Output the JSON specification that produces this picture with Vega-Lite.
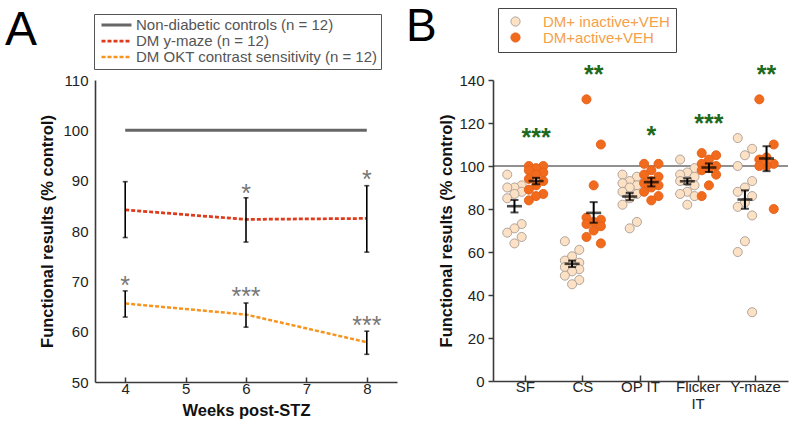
{
  "$schema": "https://vega.github.io/schema/vega-lite/v6.json",
  "background": "white",
  "padding": {"left": 5, "top": 3, "right": 8, "bottom": 2},
  "spacing": 9,
  "resolve": {"legend": {"color": "independent", "strokeDash": "independent", "strokeWidth": "independent", "fill": "independent", "stroke": "independent"}},
  "config": {
    "font": "Liberation Sans",
    "view": {"stroke": null},
    "axis": {"grid": false, "domainColor": "#3a3a3a", "domainWidth": 1.6, "tickColor": "#3a3a3a", "tickWidth": 1.5, "labelFont": "Liberation Sans", "labelFontSize": 15, "labelColor": "#222222", "titleFont": "Liberation Sans", "titleFontSize": 16.5, "titleFontWeight": "bold", "titleColor": "#111111"},
    "legend": {"labelFont": "Liberation Sans", "labelFontSize": 15, "fillColor": "white", "labelLimit": 0}
  },
  "datasets": {
    "lineA": [
      {"week": 4, "value": 100, "series": "Non-diabetic controls (n = 12)"},
      {"week": 6, "value": 100, "series": "Non-diabetic controls (n = 12)"},
      {"week": 8, "value": 100, "series": "Non-diabetic controls (n = 12)"},
      {"week": 4, "value": 84.2, "series": "DM y-maze (n = 12)"},
      {"week": 6, "value": 82.3, "series": "DM y-maze (n = 12)"},
      {"week": 8, "value": 82.5, "series": "DM y-maze (n = 12)"},
      {"week": 4, "value": 65.6, "series": "DM OKT contrast sensitivity (n = 12)"},
      {"week": 6, "value": 63.4, "series": "DM OKT contrast sensitivity (n = 12)"},
      {"week": 8, "value": 57.9, "series": "DM OKT contrast sensitivity (n = 12)"}
    ],
    "errA": [
      {"week": 4, "lo": 78.7, "hi": 89.8},
      {"week": 6, "lo": 77.8, "hi": 86.6},
      {"week": 8, "lo": 75.8, "hi": 89.0},
      {"week": 4, "lo": 62.9, "hi": 68.1},
      {"week": 6, "lo": 60.9, "hi": 65.7},
      {"week": 8, "lo": 55.5, "hi": 60.1}
    ],
    "starsA": [
      {"week": 4, "y": 67.5, "label": "*"},
      {"week": 6, "y": 85.7, "label": "*"},
      {"week": 8, "y": 88.5, "label": "*"},
      {"week": 6, "y": 65.3, "label": "***"},
      {"week": 8, "y": 59.6, "label": "***"}
    ],
    "ptsB": [
      {"cat": "SF", "group": "DM+ inactive+VEH", "v": 96},
      {"cat": "SF", "group": "DM+ inactive+VEH", "v": 91},
      {"cat": "SF", "group": "DM+ inactive+VEH", "v": 90},
      {"cat": "SF", "group": "DM+ inactive+VEH", "v": 90},
      {"cat": "SF", "group": "DM+ inactive+VEH", "v": 88},
      {"cat": "SF", "group": "DM+ inactive+VEH", "v": 87},
      {"cat": "SF", "group": "DM+ inactive+VEH", "v": 85},
      {"cat": "SF", "group": "DM+ inactive+VEH", "v": 73},
      {"cat": "SF", "group": "DM+ inactive+VEH", "v": 71},
      {"cat": "SF", "group": "DM+ inactive+VEH", "v": 69},
      {"cat": "SF", "group": "DM+ inactive+VEH", "v": 67},
      {"cat": "SF", "group": "DM+ inactive+VEH", "v": 64},
      {"cat": "SF", "group": "DM+active+VEH", "v": 100},
      {"cat": "SF", "group": "DM+active+VEH", "v": 100},
      {"cat": "SF", "group": "DM+active+VEH", "v": 99},
      {"cat": "SF", "group": "DM+active+VEH", "v": 98},
      {"cat": "SF", "group": "DM+active+VEH", "v": 97},
      {"cat": "SF", "group": "DM+active+VEH", "v": 96},
      {"cat": "SF", "group": "DM+active+VEH", "v": 94},
      {"cat": "SF", "group": "DM+active+VEH", "v": 93},
      {"cat": "SF", "group": "DM+active+VEH", "v": 91},
      {"cat": "SF", "group": "DM+active+VEH", "v": 89},
      {"cat": "SF", "group": "DM+active+VEH", "v": 87},
      {"cat": "SF", "group": "DM+active+VEH", "v": 86},
      {"cat": "SF", "group": "DM+active+VEH", "v": 84},
      {"cat": "CS", "group": "DM+ inactive+VEH", "v": 65},
      {"cat": "CS", "group": "DM+ inactive+VEH", "v": 61},
      {"cat": "CS", "group": "DM+ inactive+VEH", "v": 58},
      {"cat": "CS", "group": "DM+ inactive+VEH", "v": 56},
      {"cat": "CS", "group": "DM+ inactive+VEH", "v": 55},
      {"cat": "CS", "group": "DM+ inactive+VEH", "v": 54},
      {"cat": "CS", "group": "DM+ inactive+VEH", "v": 53},
      {"cat": "CS", "group": "DM+ inactive+VEH", "v": 52},
      {"cat": "CS", "group": "DM+ inactive+VEH", "v": 51},
      {"cat": "CS", "group": "DM+ inactive+VEH", "v": 49},
      {"cat": "CS", "group": "DM+ inactive+VEH", "v": 47},
      {"cat": "CS", "group": "DM+ inactive+VEH", "v": 45},
      {"cat": "CS", "group": "DM+active+VEH", "v": 131},
      {"cat": "CS", "group": "DM+active+VEH", "v": 110},
      {"cat": "CS", "group": "DM+active+VEH", "v": 91},
      {"cat": "CS", "group": "DM+active+VEH", "v": 76},
      {"cat": "CS", "group": "DM+active+VEH", "v": 75},
      {"cat": "CS", "group": "DM+active+VEH", "v": 74},
      {"cat": "CS", "group": "DM+active+VEH", "v": 73},
      {"cat": "CS", "group": "DM+active+VEH", "v": 72},
      {"cat": "CS", "group": "DM+active+VEH", "v": 70},
      {"cat": "CS", "group": "DM+active+VEH", "v": 67},
      {"cat": "CS", "group": "DM+active+VEH", "v": 64},
      {"cat": "OP IT", "group": "DM+ inactive+VEH", "v": 96},
      {"cat": "OP IT", "group": "DM+ inactive+VEH", "v": 95},
      {"cat": "OP IT", "group": "DM+ inactive+VEH", "v": 93},
      {"cat": "OP IT", "group": "DM+ inactive+VEH", "v": 92},
      {"cat": "OP IT", "group": "DM+ inactive+VEH", "v": 91},
      {"cat": "OP IT", "group": "DM+ inactive+VEH", "v": 90},
      {"cat": "OP IT", "group": "DM+ inactive+VEH", "v": 88},
      {"cat": "OP IT", "group": "DM+ inactive+VEH", "v": 87},
      {"cat": "OP IT", "group": "DM+ inactive+VEH", "v": 85},
      {"cat": "OP IT", "group": "DM+ inactive+VEH", "v": 82},
      {"cat": "OP IT", "group": "DM+ inactive+VEH", "v": 74},
      {"cat": "OP IT", "group": "DM+ inactive+VEH", "v": 71},
      {"cat": "OP IT", "group": "DM+active+VEH", "v": 101},
      {"cat": "OP IT", "group": "DM+active+VEH", "v": 101},
      {"cat": "OP IT", "group": "DM+active+VEH", "v": 98},
      {"cat": "OP IT", "group": "DM+active+VEH", "v": 96},
      {"cat": "OP IT", "group": "DM+active+VEH", "v": 95},
      {"cat": "OP IT", "group": "DM+active+VEH", "v": 93},
      {"cat": "OP IT", "group": "DM+active+VEH", "v": 92},
      {"cat": "OP IT", "group": "DM+active+VEH", "v": 91},
      {"cat": "OP IT", "group": "DM+active+VEH", "v": 90},
      {"cat": "OP IT", "group": "DM+active+VEH", "v": 88},
      {"cat": "OP IT", "group": "DM+active+VEH", "v": 86},
      {"cat": "OP IT", "group": "DM+active+VEH", "v": 84},
      {"cat": "Flicker IT", "group": "DM+ inactive+VEH", "v": 103},
      {"cat": "Flicker IT", "group": "DM+ inactive+VEH", "v": 99},
      {"cat": "Flicker IT", "group": "DM+ inactive+VEH", "v": 97},
      {"cat": "Flicker IT", "group": "DM+ inactive+VEH", "v": 96},
      {"cat": "Flicker IT", "group": "DM+ inactive+VEH", "v": 95},
      {"cat": "Flicker IT", "group": "DM+ inactive+VEH", "v": 93},
      {"cat": "Flicker IT", "group": "DM+ inactive+VEH", "v": 93},
      {"cat": "Flicker IT", "group": "DM+ inactive+VEH", "v": 91},
      {"cat": "Flicker IT", "group": "DM+ inactive+VEH", "v": 88},
      {"cat": "Flicker IT", "group": "DM+ inactive+VEH", "v": 87},
      {"cat": "Flicker IT", "group": "DM+ inactive+VEH", "v": 86},
      {"cat": "Flicker IT", "group": "DM+ inactive+VEH", "v": 82},
      {"cat": "Flicker IT", "group": "DM+active+VEH", "v": 106},
      {"cat": "Flicker IT", "group": "DM+active+VEH", "v": 105},
      {"cat": "Flicker IT", "group": "DM+active+VEH", "v": 103},
      {"cat": "Flicker IT", "group": "DM+active+VEH", "v": 101},
      {"cat": "Flicker IT", "group": "DM+active+VEH", "v": 100},
      {"cat": "Flicker IT", "group": "DM+active+VEH", "v": 99},
      {"cat": "Flicker IT", "group": "DM+active+VEH", "v": 98},
      {"cat": "Flicker IT", "group": "DM+active+VEH", "v": 96},
      {"cat": "Flicker IT", "group": "DM+active+VEH", "v": 91},
      {"cat": "Flicker IT", "group": "DM+active+VEH", "v": 86},
      {"cat": "Y-maze", "group": "DM+ inactive+VEH", "v": 113},
      {"cat": "Y-maze", "group": "DM+ inactive+VEH", "v": 108},
      {"cat": "Y-maze", "group": "DM+ inactive+VEH", "v": 105},
      {"cat": "Y-maze", "group": "DM+ inactive+VEH", "v": 100},
      {"cat": "Y-maze", "group": "DM+ inactive+VEH", "v": 93},
      {"cat": "Y-maze", "group": "DM+ inactive+VEH", "v": 90},
      {"cat": "Y-maze", "group": "DM+ inactive+VEH", "v": 88},
      {"cat": "Y-maze", "group": "DM+ inactive+VEH", "v": 86},
      {"cat": "Y-maze", "group": "DM+ inactive+VEH", "v": 83},
      {"cat": "Y-maze", "group": "DM+ inactive+VEH", "v": 81},
      {"cat": "Y-maze", "group": "DM+ inactive+VEH", "v": 77},
      {"cat": "Y-maze", "group": "DM+ inactive+VEH", "v": 65},
      {"cat": "Y-maze", "group": "DM+ inactive+VEH", "v": 60},
      {"cat": "Y-maze", "group": "DM+ inactive+VEH", "v": 32},
      {"cat": "Y-maze", "group": "DM+active+VEH", "v": 131},
      {"cat": "Y-maze", "group": "DM+active+VEH", "v": 110},
      {"cat": "Y-maze", "group": "DM+active+VEH", "v": 104},
      {"cat": "Y-maze", "group": "DM+active+VEH", "v": 103},
      {"cat": "Y-maze", "group": "DM+active+VEH", "v": 101},
      {"cat": "Y-maze", "group": "DM+active+VEH", "v": 100},
      {"cat": "Y-maze", "group": "DM+active+VEH", "v": 100},
      {"cat": "Y-maze", "group": "DM+active+VEH", "v": 80}
    ],
    "sumB": [
      {"cat": "SF", "group": "DM+ inactive+VEH", "mean": 81.3, "lo": 78.4, "hi": 84.2},
      {"cat": "SF", "group": "DM+active+VEH", "mean": 93.0, "lo": 91.5, "hi": 94.5},
      {"cat": "CS", "group": "DM+ inactive+VEH", "mean": 54.5, "lo": 53.0, "hi": 56.0},
      {"cat": "CS", "group": "DM+active+VEH", "mean": 78.2, "lo": 73.6, "hi": 83.2},
      {"cat": "OP IT", "group": "DM+ inactive+VEH", "mean": 85.8, "lo": 84.1, "hi": 87.5},
      {"cat": "OP IT", "group": "DM+active+VEH", "mean": 92.5, "lo": 90.5, "hi": 94.5},
      {"cat": "Flicker IT", "group": "DM+ inactive+VEH", "mean": 92.9, "lo": 91.5, "hi": 94.3},
      {"cat": "Flicker IT", "group": "DM+active+VEH", "mean": 99.3, "lo": 97.2, "hi": 101.2},
      {"cat": "Y-maze", "group": "DM+ inactive+VEH", "mean": 84.4, "lo": 80.1, "hi": 88.7},
      {"cat": "Y-maze", "group": "DM+active+VEH", "mean": 103.5, "lo": 97.6, "hi": 109.2}
    ],
    "starsB": [
      {"cat": "SF", "group": "DM+active+VEH", "y": 109.4, "label": "***"},
      {"cat": "CS", "group": "DM+active+VEH", "y": 138.8, "label": "**"},
      {"cat": "OP IT", "group": "DM+active+VEH", "y": 110.1, "label": "*"},
      {"cat": "Flicker IT", "group": "DM+active+VEH", "y": 115.8, "label": "***"},
      {"cat": "Y-maze", "group": "DM+active+VEH", "y": 138.8, "label": "**"}
    ]
  },
  "hconcat": [
    {
      "width": 302,
      "height": 302,
      "title": {"text": "A", "font": "Liberation Sans", "fontSize": 48, "fontWeight": "normal", "color": "black", "anchor": "start", "frame": "group", "dx": -90, "dy": 79, "baseline": "alphabetic", "offset": 0},
      "layer": [
        {
          "data": {"name": "lineA"},
          "mark": {"type": "line"},
          "encoding": {
            "x": {"field": "week", "type": "quantitative", "title": "Weeks post-STZ", "scale": {"domain": [3.5, 8.5], "nice": false, "zero": false}, "axis": {"values": [4, 5, 6, 7, 8], "format": "d", "title": "Weeks post-STZ", "tickSize": -5, "labelPadding": 4, "titlePadding": 6}},
            "y": {"field": "value", "type": "quantitative", "title": "Functional results (% control)", "scale": {"domain": [50, 110], "nice": false, "zero": false}, "axis": {"values": [50, 60, 70, 80, 90, 100, 110], "ticks": false, "labelPadding": 7, "title": "Functional results (% control)", "titlePadding": 7}},
            "color": {"field": "series", "type": "nominal", "scale": {"domain": ["Non-diabetic controls (n = 12)", "DM y-maze (n = 12)", "DM OKT contrast sensitivity (n = 12)"], "range": ["#666666", "#dd3b1c", "#f7941e"]},
              "legend": {"title": null, "orient": "none", "legendX": -1, "legendY": -66, "padding": 3.5, "strokeColor": "#555555", "symbolType": "stroke", "symbolSize": 900, "symbolStrokeWidth": 2.5, "symbolOffset": 2.5, "labelOffset": 3, "labelFontSize": 15, "labelLimit": 0, "rowPadding": -1, "clipHeight": 15, "labelColor": "#555555",
                "encode": {"labels": {"fill": {"condition": [{"test": "datum.value === 'DM y-maze (n = 12)'", "value": "#dd3b1c"}, {"test": "datum.value === 'DM OKT contrast sensitivity (n = 12)'", "value": "#f7941e"}], "value": "#555555"}}}}},
            "strokeDash": {"field": "series", "type": "nominal", "scale": {"domain": ["Non-diabetic controls (n = 12)", "DM y-maze (n = 12)", "DM OKT contrast sensitivity (n = 12)"], "range": [[1, 0], [4, 2], [4, 2]]}},
            "strokeWidth": {"field": "series", "type": "nominal", "scale": {"domain": ["Non-diabetic controls (n = 12)", "DM y-maze (n = 12)", "DM OKT contrast sensitivity (n = 12)"], "range": [3, 2.5, 2.5]}, "legend": null}
          }
        },
        {
          "data": {"name": "errA"},
          "mark": {"type": "errorbar", "color": "black", "thickness": 1.6, "ticks": {"size": 5, "color": "black", "thickness": 1.6}},
          "encoding": {
            "x": {"field": "week", "type": "quantitative", "title": "Weeks post-STZ"},
            "y": {"field": "lo", "type": "quantitative", "title": "Functional results (% control)"},
            "y2": {"field": "hi"}
          }
        },
        {
          "data": {"name": "starsA"},
          "mark": {"type": "text", "font": "Liberation Sans", "fontSize": 25, "color": "#777777", "baseline": "alphabetic"},
          "encoding": {
            "x": {"field": "week", "type": "quantitative", "title": "Weeks post-STZ"},
            "y": {"field": "y", "type": "quantitative", "title": "Functional results (% control)"},
            "text": {"field": "label"}
          }
        }
      ]
    },
    {
      "width": 295,
      "height": 301,
      "title": {"text": "B", "font": "Liberation Sans", "fontSize": 46, "fontWeight": "normal", "color": "black", "anchor": "start", "frame": "group", "dx": -87, "dy": 79, "baseline": "alphabetic", "offset": 0},
      "layer": [
        {
          "data": {"values": [{}]},
          "mark": {"type": "rule", "color": "#222222", "strokeWidth": 1.2},
          "encoding": {"y": {"datum": 100, "type": "quantitative", "title": "Functional  results (% control)"}}
        },
        {
          "data": {"name": "ptsB"},
          "transform": [
            {"window": [{"op": "row_number", "as": "rn"}], "groupby": ["cat", "group"], "sort": [{"field": "v", "order": "descending"}]},
            {"calculate": "datum.group + '_' + ['C', 'L', 'R'][datum.rn % 3]", "as": "slot"}
          ],
          "mark": {"type": "circle", "size": 82, "strokeWidth": 0.9, "opacity": 1},
          "encoding": {
            "x": {"field": "cat", "type": "nominal", "title": null, "sort": ["SF", "CS", "OP IT", "Flicker IT", "Y-maze"], "scale": {"domain": ["SF", "CS", "OP IT", "Flicker IT", "Y-maze"], "paddingInner": 0, "paddingOuter": 0.06}, "axis": {"title": null, "labelAngle": 0, "tickSize": -6, "labelPadding": 4, "labelLineHeight": 17, "labelExpr": "datum.value == 'Flicker IT' ? ['Flicker', 'IT'] : datum.value"}},
            "xOffset": {"field": "slot", "type": "nominal", "scale": {"domain": ["DM+ inactive+VEH_L", "DM+ inactive+VEH_C", "DM+ inactive+VEH_R", "DM+active+VEH_L", "DM+active+VEH_C", "DM+active+VEH_R"], "paddingInner": 0, "paddingOuter": 1.12}},
            "y": {"field": "v", "type": "quantitative", "title": "Functional  results (% control)", "scale": {"domain": [0, 140], "nice": false}, "axis": {"values": [0, 20, 40, 60, 80, 100, 120, 140], "tickSize": 5, "labelPadding": 4, "title": "Functional  results (% control)", "titlePadding": 4}},
            "fill": {"field": "group", "type": "nominal", "scale": {"domain": ["DM+ inactive+VEH", "DM+active+VEH"], "range": ["#fde1c4", "#f26b1c"]},
              "legend": {"title": null, "orient": "none", "legendX": 5, "legendY": -72, "padding": 6, "strokeColor": "#444444", "symbolType": "circle", "symbolSize": 85, "symbolStrokeWidth": 0.9, "symbolOffset": 4, "labelOffset": 20, "labelFontSize": 15, "labelLimit": 0, "labelColor": "#f5a04a", "rowPadding": 0}},
            "stroke": {"field": "group", "type": "nominal", "scale": {"domain": ["DM+ inactive+VEH", "DM+active+VEH"], "range": ["#a89c94", "#e2601a"]}}
          }
        },
        {
          "data": {"name": "sumB"},
          "transform": [{"calculate": "datum.group + '_C'", "as": "slot"}],
          "mark": {"type": "rule", "color": "black", "strokeWidth": 2},
          "encoding": {
            "x": {"field": "cat", "type": "nominal", "title": null},
            "xOffset": {"field": "slot", "type": "nominal"},
            "y": {"field": "lo", "type": "quantitative", "title": "Functional  results (% control)"},
            "y2": {"field": "hi"}
          }
        },
        {
          "data": {"name": "sumB"},
          "transform": [{"calculate": "datum.group + '_C'", "as": "slot"}],
          "mark": {"type": "tick", "color": "black", "size": 15, "thickness": 2.6},
          "encoding": {
            "x": {"field": "cat", "type": "nominal", "title": null},
            "xOffset": {"field": "slot", "type": "nominal"},
            "y": {"field": "mean", "type": "quantitative", "title": "Functional  results (% control)"}
          }
        },
        {
          "data": {"name": "sumB"},
          "transform": [{"calculate": "datum.group + '_C'", "as": "slot"}],
          "mark": {"type": "tick", "color": "black", "size": 8, "thickness": 2},
          "encoding": {
            "x": {"field": "cat", "type": "nominal", "title": null},
            "xOffset": {"field": "slot", "type": "nominal"},
            "y": {"field": "lo", "type": "quantitative", "title": "Functional  results (% control)"}
          }
        },
        {
          "data": {"name": "sumB"},
          "transform": [{"calculate": "datum.group + '_C'", "as": "slot"}],
          "mark": {"type": "tick", "color": "black", "size": 8, "thickness": 2},
          "encoding": {
            "x": {"field": "cat", "type": "nominal", "title": null},
            "xOffset": {"field": "slot", "type": "nominal"},
            "y": {"field": "hi", "type": "quantitative", "title": "Functional  results (% control)"}
          }
        },
        {
          "data": {"name": "starsB"},
          "transform": [{"calculate": "datum.group + '_C'", "as": "slot"}],
          "mark": {"type": "text", "font": "Liberation Sans", "fontSize": 25, "fontWeight": "bold", "color": "#1d6a1d", "baseline": "alphabetic"},
          "encoding": {
            "x": {"field": "cat", "type": "nominal", "title": null},
            "xOffset": {"field": "slot", "type": "nominal"},
            "y": {"field": "y", "type": "quantitative", "title": "Functional  results (% control)"},
            "text": {"field": "label"}
          }
        }
      ]
    }
  ]
}
